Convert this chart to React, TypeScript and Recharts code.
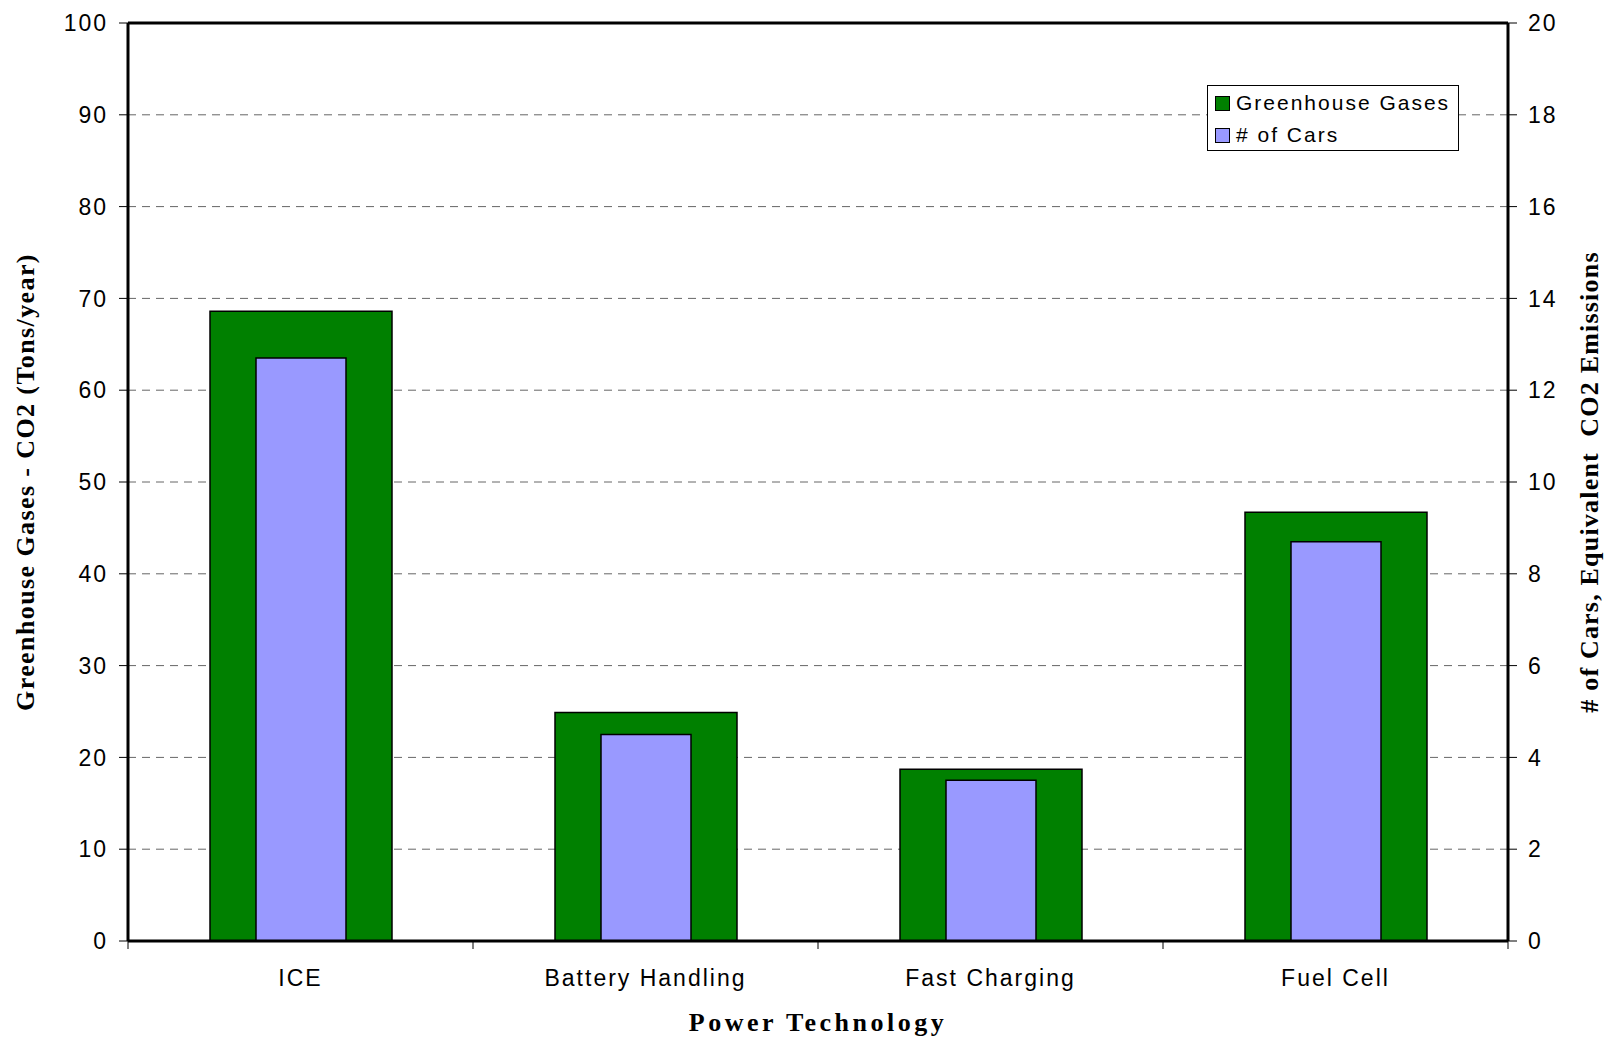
import React from 'react';
import { BarChart, Bar, XAxis, YAxis, CartesianGrid, Legend, ReferenceLine } from 'recharts';

// chart values
const categories = ['ICE', 'Battery Handling', 'Fast Charging', 'Fuel Cell'];
const greenhouseGases = [68.6, 24.9, 18.7, 46.7];
const numberOfCars = [12.7, 4.5, 3.5, 8.7];
const leftTicks = [0, 10, 20, 30, 40, 50, 60, 70, 80, 90, 100];
const rightTicks = [0, 2, 4, 6, 8, 10, 12, 14, 16, 18, 20];

const SERIES = [
  { key: 'ghg', name: 'Greenhouse Gases', color: '#008000' },
  { key: 'cars', name: '# of Cars', color: '#9999FF' },
];

const data = categories.map((name, i) => ({
  name,
  ghg: greenhouseGases[i],
  cars: numberOfCars[i],
}));

const SANS = '"Liberation Sans", Arial, sans-serif';
const SERIF = '"Liberation Serif", "Times New Roman", serif';

const W = 1619;
const H = 1049;

// category label plus Excel-style boundary ticks between categories
const CategoryTick = (props: any) => {
  const { x, y, payload } = props;
  const half = payload && payload.offset ? payload.offset : 172.5;
  const isLast = payload && payload.value === categories[categories.length - 1];
  return (
    <g>
      <line x1={x - half} y1={y} x2={x - half} y2={y + 8} stroke="#000" strokeWidth={1} />
      {isLast && <line x1={x + half} y1={y} x2={x + half} y2={y + 8} stroke="#000" strokeWidth={1} />}
      <text x={x} y={y + 45} textAnchor="middle" fill="#000" fontFamily={SANS} fontSize={23} style={{ letterSpacing: 2 }}>
        {payload.value}
      </text>
    </g>
  );
};

const LegendBox = () => (
  <div
    style={{
      border: '1px solid #000',
      background: '#fff',
      boxSizing: 'border-box',
      width: 252,
      height: 66,
      padding: '1px 0 0 7px',
      fontFamily: SANS,
      fontSize: 21,
      letterSpacing: 2,
      color: '#000',
    }}
  >
    {SERIES.map((s) => (
      <div key={s.key} style={{ display: 'flex', alignItems: 'center', height: 32 }}>
        <span
          style={{
            display: 'inline-block',
            width: 13,
            height: 13,
            background: s.color,
            border: '1.5px solid #000',
            marginRight: 6,
          }}
        />
        <span>{s.name}</span>
      </div>
    ))}
  </div>
);

const App: React.FC = () => {
  const tickStyle = { fill: '#000', fontFamily: SANS, fontSize: 23, letterSpacing: 2 };
  return (
    <div style={{ position: 'relative', width: W, height: H, background: '#fff' }}>
      <style>{`body{margin:0;}`}</style>
      <BarChart width={W} height={H} data={data} margin={{ top: 23, right: 0, bottom: 0, left: 0 }}>
        <CartesianGrid
          xAxisId="main"
          yAxisId="left"
          vertical={false}
          strokeDasharray="8 6"
          stroke="#666"
        />
        <XAxis xAxisId="inner" dataKey="name" hide height={0} />
        <XAxis
          xAxisId="main"
          dataKey="name"
          height={108}
          axisLine={{ stroke: '#000', strokeWidth: 3 }}
          tickLine={false}
          tickSize={0}
          tickMargin={0}
          interval={0}
          tick={<CategoryTick />}
        />
        <YAxis
          yAxisId="left"
          domain={[0, 100]}
          ticks={leftTicks}
          width={128}
          axisLine={{ stroke: '#000', strokeWidth: 3 }}
          tickLine={{ stroke: '#000' }}
          tickSize={9}
          tickMargin={11}
          tick={tickStyle}
          interval={0}
        />
        <YAxis
          yAxisId="right"
          orientation="right"
          domain={[0, 20]}
          ticks={rightTicks}
          width={111}
          axisLine={{ stroke: '#000', strokeWidth: 3 }}
          tickLine={{ stroke: '#000' }}
          tickSize={9}
          tickMargin={11}
          tick={tickStyle}
          interval={0}
        />
        <ReferenceLine xAxisId="main" yAxisId="left" y={100} stroke="#000" strokeWidth={3} />
        <Bar
          xAxisId="main"
          yAxisId="left"
          dataKey="ghg"
          name={SERIES[0].name}
          fill={SERIES[0].color}
          stroke="#000"
          strokeWidth={1.5}
          barSize={182}
          isAnimationActive={false}
        />
        <Bar
          xAxisId="inner"
          yAxisId="right"
          dataKey="cars"
          name={SERIES[1].name}
          fill={SERIES[1].color}
          stroke="#000"
          strokeWidth={1.5}
          barSize={90}
          isAnimationActive={false}
        />
        <Legend
          layout="vertical"
          align="center"
          verticalAlign="middle"
          content={<LegendBox />}
          wrapperStyle={{ left: 1207, top: 85, width: 252, height: 66 }}
        />
      </BarChart>
      {/* axis titles */}
      <div
        style={{
          position: 'absolute',
          left: 26,
          top: 482,
          transform: 'translate(-50%, -50%) rotate(-90deg)',
          whiteSpace: 'nowrap',
          fontFamily: SERIF,
          fontWeight: 'bold',
          fontSize: 26,
          letterSpacing: 1.4,
        }}
      >
        Greenhouse Gases - CO2 (Tons/year)
      </div>
      <div
        style={{
          position: 'absolute',
          left: 1590,
          top: 482,
          transform: 'translate(-50%, -50%) rotate(-90deg)',
          whiteSpace: 'pre',
          fontFamily: SERIF,
          fontWeight: 'bold',
          fontSize: 26,
          letterSpacing: 1.2,
        }}
      >
        # of Cars, Equivalent  CO2 Emissions
      </div>
      <div
        style={{
          position: 'absolute',
          left: 818,
          top: 1023,
          transform: 'translate(-50%, -50%)',
          whiteSpace: 'nowrap',
          fontFamily: SERIF,
          fontWeight: 'bold',
          fontSize: 26,
          letterSpacing: 3.5,
        }}
      >
        Power Technology
      </div>
    </div>
  );
};

export default App;
